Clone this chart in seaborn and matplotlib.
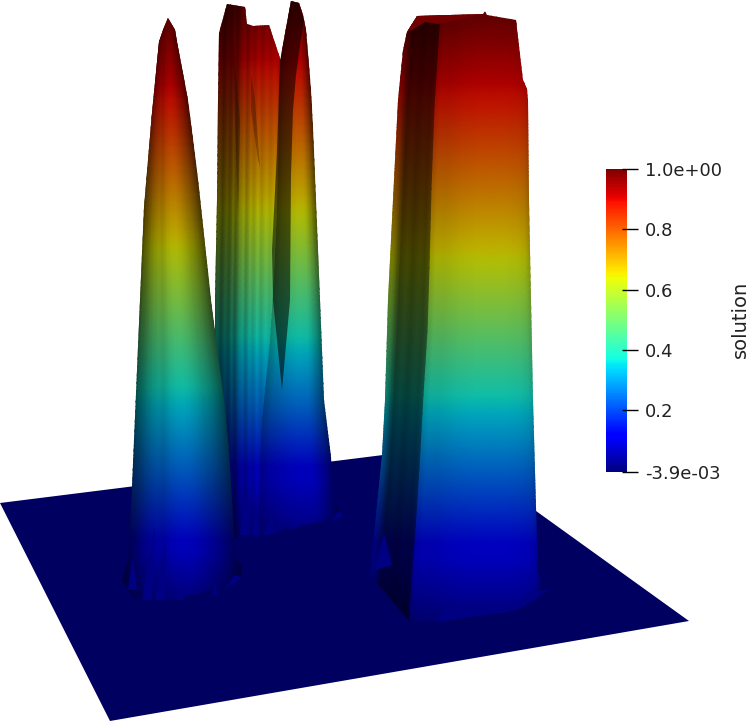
import numpy as np
import matplotlib
matplotlib.use("Agg")
import matplotlib.pyplot as plt
from matplotlib.patches import Polygon
import seaborn as sns

sns.set_theme(style="white")
plt.rcParams['font.family'] = ['DejaVu Sans']

# colour scale
VMIN, VMAX = -0.0039, 1.0
TICK_VALUES = [VMIN, 0.2, 0.4, 0.6, 0.8, VMAX]
TICK_LABELS = ["-3.9e-03", "0.2", "0.4", "0.6", "0.8", "1.0e+00"]
SCALE_TITLE = "solution"

# solution levels sampled up every column
LEVELS = [0.02, 0.125, 0.25, 0.375, 0.5, 0.625, 0.75, 0.875, 1.0]

# the flat plate
PLATE_X = [0, 110, 689, 447]
PLATE_Y = [503, 721, 621, 447]
PLATE_SHADE = 0.75

# column A (left)
A_Y = [606, 539, 465, 387, 322, 257, 183, 108, 18]
A_L = [120, 126, 130, 134, 138, 141, 145, 150, 158]
A_R = [245, 238, 231, 224, 214, 206, 198, 189, 178]
A_FRAC = [0, .05, .1, .15, .2, .27, .33, .4, .47, .55, .62, .7, .76, .82, .88, .94, 1]
A_SHADE = [.25, .36, .42, .5, .56, .62, .6, .68, .72, .73, .7, .64, .58, .53, .46, .38, .28]
A_SIL_X = [168, 175, 177, 188, 200, 211, 224, 229, 233, 236, 243, 240, 200, 160, 133, 122, 128, 132, 135, 140, 144, 152, 159, 163]
A_SIL_Y = [18, 30, 42, 100, 190, 300, 400, 450, 517, 560, 567, 580, 593, 603, 597, 580, 560, 487, 417, 300, 207, 113, 42, 30]

# column B (back middle)
B_Y = [545, 466, 405, 336, 278, 221, 151, 79, 0]
B_L = [213, 213, 213, 213, 214, 215, 216, 217, 218]
B_R = [290, 290, 290, 290, 290, 290, 290, 290, 290]
B_FRAC = [0, .05, .1, .15, .2, .24, .28, .33, .38, .42, .47, .52, .57, .62, .68, .74, .8, .88, 1]
B_SHADE = [.28, .35, .26, .36, .3, .44, .34, .52, .62, .5, .66, .6, .72, .62, .72, .66, .74, .6, .45]
B_SIL_X = [219, 227, 245, 247, 253, 269, 281, 290, 320, 340, 345, 260, 237, 213, 215, 215, 217, 218]
B_SIL_Y = [33, 4, 7, 24, 26, 25, 61, 100, 300, 500, 516, 537, 538, 538, 333, 300, 200, 100]

# column C (front middle)
C_Y = B_Y
C_L = [250, 258, 264, 270, 274, 277, 279, 280, 285]
C_R = [346, 335, 328, 324, 321, 317, 314, 310, 306]
C_FRAC = [0, .12, .25, .38, .5, .6, .7, .8, .9, 1]
C_SHADE = [.5, .6, .66, .7, .73, .73, .72, .62, .48, .3]
C_SIL_X = [291, 299, 303, 306, 312, 316, 320, 324, 331, 333, 345, 313, 280, 258, 262, 270, 274, 277, 279, 280]
C_SIL_Y = [1, 3, 15, 30, 100, 200, 300, 400, 457, 500, 516, 523, 530, 537, 417, 343, 277, 212, 100, 61]

# dark ridge on column C
RIDGE_X = [291, 299, 304, 300, 296, 293, 291, 290, 282, 273, 272, 277, 280]
RIDGE_Y = [1, 3, 20, 45, 75, 110, 175, 300, 390, 300, 250, 150, 61]
RIDGE_ALPHA = 0.55

# dark folds in the face of column B
FOLD_1_X = [251, 255, 260, 258, 251]
FOLD_1_Y = [75, 100, 167, 160, 110]
FOLD_2_X = [233, 240, 238, 235]
FOLD_2_Y = [40, 120, 215, 120]
FOLD_ALPHA = 0.25

# column D (right), dark left face
D_Y = [625, 543, 468, 395, 331, 268, 189, 107, 12]
DL_L = [366, 371, 378, 382, 385, 388, 392, 396, 404]
DL_R = [408, 414, 419, 423, 427, 429, 431, 434, 440]
DL_FRAC = [0, .12, .22, .3, .45, .6, .75, .9, 1]
DL_SHADE = [.5, .48, .34, .24, .28, .24, .28, .26, .32]

# column D, lit front face
DR_L = DL_R
DR_R = [541, 539, 537, 535, 533, 531, 530, 530, 526]
DR_FRAC = [0, .06, .15, .3, .45, .6, .75, .88, .95, 1]
DR_SHADE = [.6, .68, .68, .72, .74, .74, .74, .72, .68, .56]
D_SIL_X = [407, 417, 483, 485, 487, 516, 523, 527, 528, 529, 531, 533, 536, 538, 552, 517, 437, 410, 370, 382, 385, 388, 393, 398, 403]
D_SIL_Y = [32, 16, 14, 11, 15, 20, 80, 89, 100, 200, 300, 400, 507, 573, 590, 610, 622, 622, 575, 455, 400, 300, 200, 100, 50]
D_CAP_X = [407, 417, 483, 438, 425, 412]
D_CAP_Y = [32, 16, 14, 24, 22, 30]
D_CAP_SHADE = 0.9

# small bright fins where the columns meet the plate
FINS = [
    ([128, 133, 137], [590, 557, 590]),
    ([142, 155, 152], [600, 527, 600]),
    ([155, 166, 165], [600, 540, 600]),
    ([175, 183, 184], [600, 587, 600]),
    ([212, 216, 217], [595, 582, 595]),
    ([225, 235, 243], [588, 575, 578]),
    ([240, 245, 250], [535, 490, 535]),
    ([252, 256, 260], [535, 495, 535]),
    ([263, 272, 275], [535, 517, 533]),
    ([287, 295, 300], [530, 523, 527]),
    ([330, 340, 343], [522, 510, 516]),
    ([437, 445, 480, 505, 510, 480], [622, 610, 602, 607, 612, 615]),
    ([510, 530, 550, 515], [605, 592, 590, 608]),
    ([375, 384, 392], [570, 532, 565]),
]
FIN_LEVEL = 0.07
FIN_SHADE = 0.62

fig = plt.figure(figsize=(7.49, 7.22), dpi=100, facecolor="white")
ax = fig.add_axes([0, 0, 1, 1])
ax.set_xlim(0, 749)
ax.set_ylim(722, 0)
ax.axis("off")

jet = matplotlib.colormaps["jet"]
FINE = 8


def level_rgb(values):
    return jet((np.asarray(values) - VMIN) / (VMAX - VMIN))[..., :3]


def column(ys, lefts, rights, fracs, shades, sil_x, sil_y, z):
    n = len(LEVELS)
    idx = np.linspace(0, n - 1, (n - 1) * FINE + 1)
    base = np.arange(n)
    lv = np.interp(idx, base, LEVELS)
    ys_f = np.interp(idx, base, ys)
    l_f = np.interp(idx, base, lefts)
    r_f = np.interp(idx, base, rights)
    fracs, shades = np.asarray(fracs), np.asarray(shades)
    X = l_f[:, None] + (r_f - l_f)[:, None] * fracs[None, :]
    Y = np.repeat(ys_f[:, None], len(fracs), axis=1)
    C = level_rgb(lv)[:, None, :] * shades[None, :, None]
    mesh = ax.pcolormesh(X, Y, C, shading="gouraud", zorder=z)
    clip = Polygon(np.column_stack([sil_x, sil_y]), closed=True, transform=ax.transData)
    mesh.set_clip_path(clip)
    return mesh


ax.fill(PLATE_X, PLATE_Y, color=level_rgb([VMIN])[0] * PLATE_SHADE, lw=0, zorder=1)
column(B_Y, B_L, B_R, B_FRAC, B_SHADE, B_SIL_X, B_SIL_Y, 2)
ax.fill(FOLD_1_X, FOLD_1_Y, color="black", alpha=FOLD_ALPHA, lw=0, zorder=2.5)
ax.fill(FOLD_2_X, FOLD_2_Y, color="black", alpha=FOLD_ALPHA, lw=0, zorder=2.5)
column(C_Y, C_L, C_R, C_FRAC, C_SHADE, C_SIL_X, C_SIL_Y, 3)
ax.fill(RIDGE_X, RIDGE_Y, color="black", alpha=RIDGE_ALPHA, lw=0, zorder=4)
column(A_Y, A_L, A_R, A_FRAC, A_SHADE, A_SIL_X, A_SIL_Y, 5)
column(D_Y, DR_L, DR_R, DR_FRAC, DR_SHADE, D_SIL_X, D_SIL_Y, 6)
column(D_Y, DL_L, DL_R, DL_FRAC, DL_SHADE, D_SIL_X, D_SIL_Y, 7)
ax.fill(D_CAP_X, D_CAP_Y, color=level_rgb([VMAX])[0] * D_CAP_SHADE, lw=0, zorder=8)

fin_color = level_rgb([FIN_LEVEL])[0] * FIN_SHADE
for fx, fy in FINS:
    ax.fill(fx, fy, color=fin_color, lw=0, zorder=9)

# colour bar
W, H = 749, 722
cax = fig.add_axes([606 / W, 1 - 472 / H, 21 / W, 303 / H])
grad = np.linspace(VMAX, VMIN, 256)[:, None]
sns.heatmap(grad, ax=cax, cmap=jet, vmin=VMIN, vmax=VMAX, cbar=False,
            xticklabels=False, yticklabels=False)
tax = cax.twinx()
tax.set_ylim(VMIN, VMAX)
tax.spines["right"].set_position(("outward", 2.2))
tax.set_yticks(TICK_VALUES)
tax.set_yticklabels(TICK_LABELS)
tax.tick_params(axis="y", direction="inout", length=11.5, width=1, color="black", pad=5,
                right=True, labelsize=13, labelcolor="#222222")
tax.grid(False)
tax.patch.set_visible(False)
for s in tax.spines.values():
    s.set_visible(False)
for s in cax.spines.values():
    s.set_visible(False)
fig.text(740 / W, 1 - 319 / H, SCALE_TITLE, rotation=90, ha="center", va="center",
         fontsize=14, color="#222222")

fig.savefig("out.png", dpi=100, facecolor="white")
